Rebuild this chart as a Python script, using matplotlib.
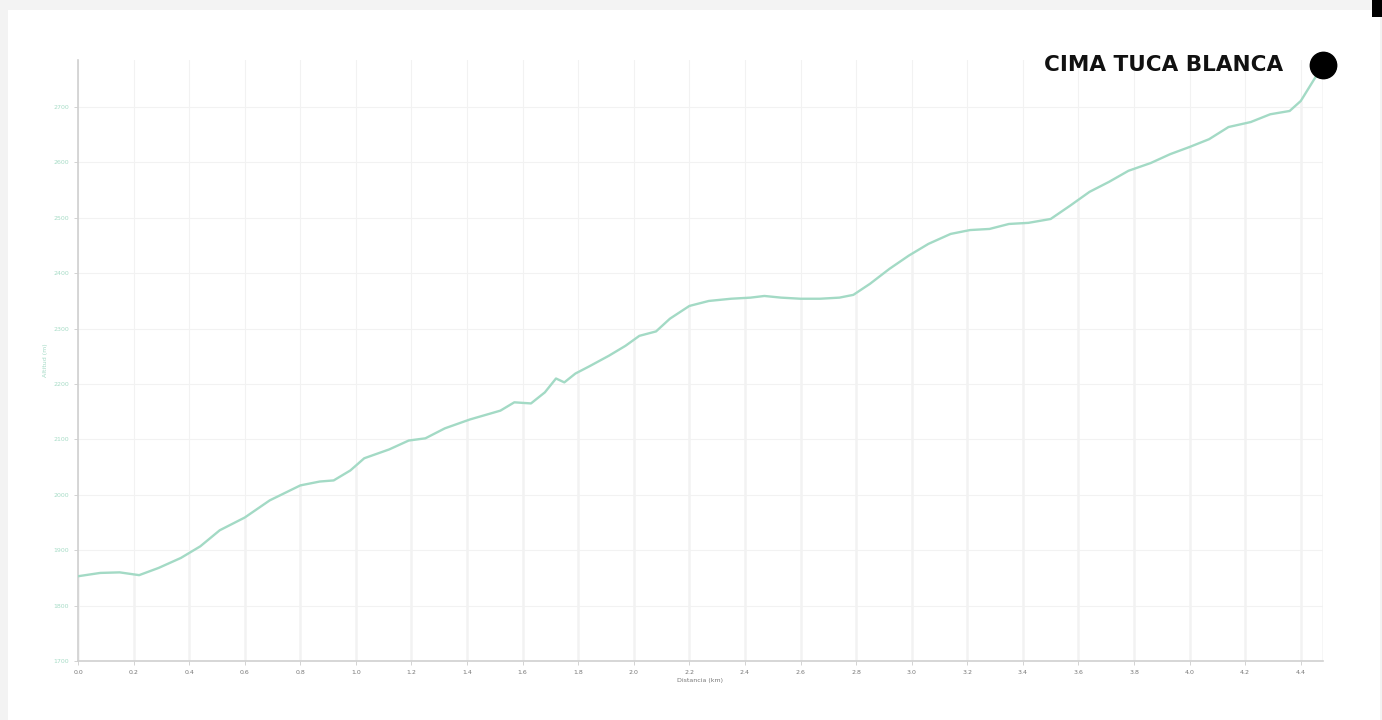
import numpy as np
import matplotlib
matplotlib.use('Agg')
import matplotlib.pyplot as plt
from matplotlib.patches import Rectangle

# elevation profile (distance km, altitude m)
dist_km = [0.00, 0.08, 0.15, 0.22, 0.29, 0.37, 0.44, 0.51, 0.60, 0.69,
           0.80, 0.87, 0.92, 0.98, 1.03, 1.12, 1.19, 1.25, 1.32, 1.41,
           1.52, 1.57, 1.63, 1.68, 1.72, 1.75, 1.79, 1.84, 1.91, 1.97,
           2.02, 2.08, 2.13, 2.20, 2.27, 2.35, 2.42, 2.47, 2.53, 2.60,
           2.67, 2.74, 2.79, 2.85, 2.92, 2.99, 3.06, 3.14, 3.21, 3.28,
           3.35, 3.42, 3.50, 3.57, 3.64, 3.71, 3.78, 3.86, 3.93, 4.00,
           4.07, 4.14, 4.22, 4.29, 4.36, 4.40, 4.48]
alt_m = [1853, 1859, 1860, 1855, 1868, 1886, 1907, 1936, 1959, 1990,
         2017, 2024, 2026, 2044, 2066, 2082, 2098, 2102, 2120, 2136,
         2152, 2167, 2165, 2185, 2210, 2203, 2219, 2232, 2251, 2269,
         2287, 2295, 2318, 2341, 2350, 2354, 2356, 2359, 2356, 2354,
         2354, 2356, 2361, 2381, 2408, 2432, 2453, 2471, 2478, 2480,
         2489, 2491, 2498, 2522, 2547, 2565, 2585, 2599, 2615, 2628,
         2642, 2664, 2673, 2687, 2693, 2711, 2776]

x_ticks = [round(0.2 * i, 1) for i in range(23)]
x_labels = ['%.1f' % v for v in x_ticks]
y_ticks = list(range(1700, 2701, 100))
y_labels = [str(v) for v in y_ticks]

summit_name = 'CIMA TUCA BLANCA'

line_color = '#a3dac5'

fig = plt.figure(figsize=(13.82, 7.2), dpi=100)
fig.patch.set_facecolor('#f3f3f3')
# white card behind the chart
fig.patches.append(Rectangle((8 / 1382, 0), 1372 / 1382, 710 / 720,
                             transform=fig.transFigure, facecolor='white',
                             edgecolor='none', zorder=-5))
fig.patches.append(Rectangle((1372 / 1382, 703 / 720), 10 / 1382, 17 / 720,
                             transform=fig.transFigure, facecolor='black',
                             edgecolor='none', zorder=-5))

ax = fig.add_axes([78 / 1382, 59 / 720, 1245 / 1382, 601 / 720])
ax.set_facecolor('none')
ax.set_zorder(2)

ax.set_xlim(0, 4.48)
ax.set_ylim(1700, 2785)

# faint grid everywhere, stronger drop lines under the profile
ax.set_yticks(y_ticks)
ax.set_yticklabels(y_labels)
ax.set_xticks(x_ticks)
ax.set_xticklabels(x_labels)
ax.grid(True, color='#f2f2f2', linewidth=0.8)
tops = np.interp(x_ticks, dist_km, alt_m)
ax.vlines(x_ticks, 1700, tops, color='#d2d2d2', linewidth=1.0, zorder=1)
ax.vlines([4.48], 1700, 2776, color='#d2d2d2', linewidth=1.0, zorder=1)

ax.plot(dist_km, alt_m, color=line_color, linewidth=1.7, zorder=3)
ax.plot([dist_km[-1]], [alt_m[-1]], 'o', color='black', markersize=19,
        zorder=4, clip_on=False)
ax.text(4.335, 2776, summit_name, ha='right', va='center', fontsize=15.5,
        fontweight='bold', color='#111111')

for s in ['top', 'right']:
    ax.spines[s].set_visible(False)
for s in ['left', 'bottom']:
    ax.spines[s].set_color('#d0d0d0')
    ax.spines[s].set_linewidth(1.2)

ax.tick_params(axis='both', labelsize=4.5, colors='#cccccc',
               labelcolor='#777777', length=3, width=0.6)
ax.tick_params(axis='y', labelcolor='#a6dcc6')

ax.set_xlabel('Distancia (km)', fontsize=4.5, color='#777777', labelpad=2)
ax.set_ylabel('Altitud (m)', fontsize=4.5, color=line_color, labelpad=4)

fig.savefig('out.png', dpi=100, facecolor=fig.get_facecolor())
